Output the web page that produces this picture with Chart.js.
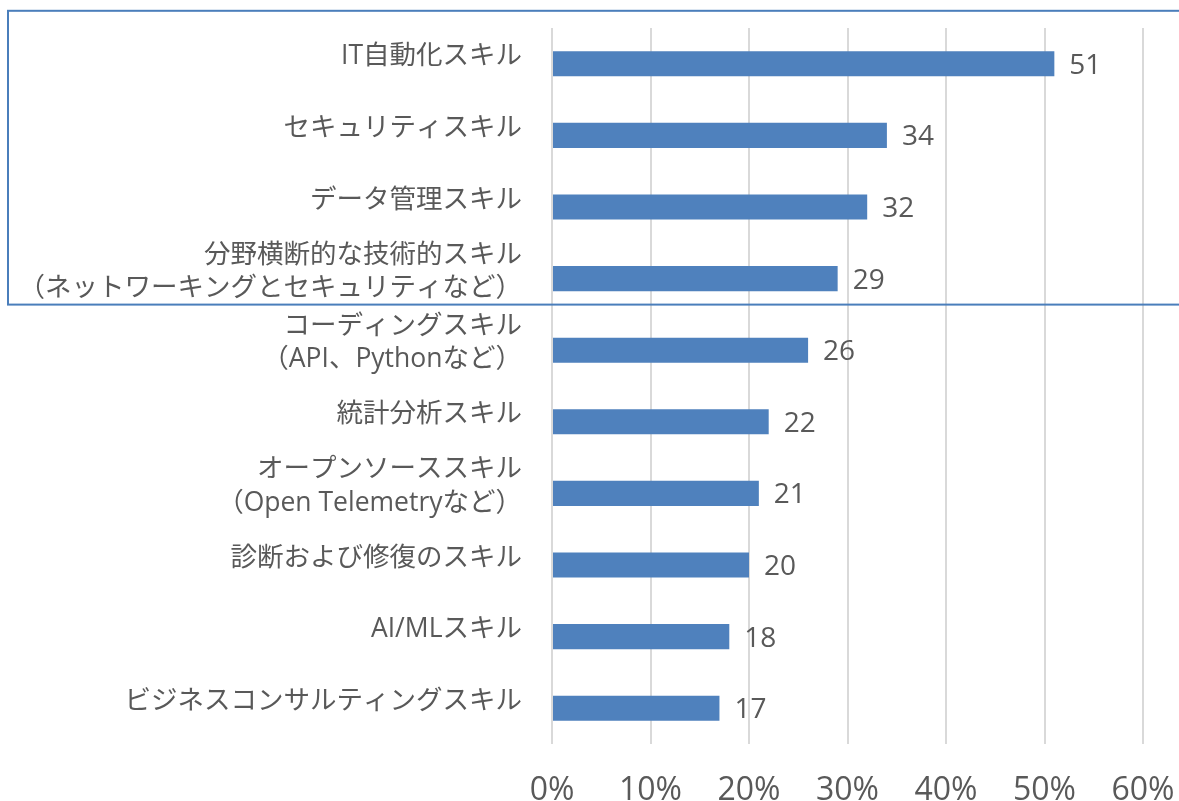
<!DOCTYPE html>
<html>
<head>
<meta charset="utf-8">
<script src="https://cdn.jsdelivr.net/npm/chart.js@4/dist/chart.umd.min.js"></script>
<style>
  html, body { margin: 0; padding: 0; background: #fff; }
  #wrap { width: 1179px; height: 801px; position: relative; }
</style>
</head>
<body>
<div id="wrap"><canvas id="skillsChart"></canvas></div>
<script>
// Skill categories (top to bottom) and share of respondents (%)
const categories = [
    'IT自動化スキル',
    'セキュリティスキル',
    'データ管理スキル',
    ['分野横断的な技術的スキル', '（ネットワーキングとセキュリティなど）'],
    ['コーディングスキル', '（API、Pythonなど）'],
    '統計分析スキル',
    ['オープンソーススキル', '（Open Telemetryなど）'],
    '診断および修復のスキル',
    'AI/MLスキル',
    'ビジネスコンサルティングスキル'
];
const values = [51, 34, 32, 29, 26, 22, 21, 20, 18, 17];
const xTicks = [0, 10, 20, 30, 40, 50, 60];

const FONT = "'Open Sans', 'Noto Sans CJK JP', sans-serif";
const TEXT_GREY = '#595959';
const BAR_BLUE = '#4F81BD';

// value labels to the right of each bar
const valueLabels = {
    id: 'valueLabels',
    afterDatasetsDraw(chart) {
        const ctx = chart.ctx;
        const meta = chart.getDatasetMeta(0);
        ctx.save();
        ctx.font = '28px ' + FONT;
        ctx.fillStyle = TEXT_GREY;
        ctx.textAlign = 'left';
        ctx.textBaseline = 'middle';
        meta.data.forEach((bar, i) => {
            ctx.fillText(String(values[i]), bar.x + 15, bar.y + 2);
        });
        ctx.restore();
    }
};

// highlight frame around the first four categories
const highlightBox = {
    id: 'highlightBox',
    afterDraw(chart) {
        const ctx = chart.ctx;
        const y = chart.scales.y;
        const top = y.getPixelForValue(0) - 53;
        const bottom = y.getPixelForValue(3) + 26;
        ctx.save();
        ctx.strokeStyle = '#4A7EBB';
        ctx.lineWidth = 2;
        ctx.strokeRect(8, top, chart.width + 10, bottom - top);
        ctx.restore();
    }
};

new Chart(document.getElementById('skillsChart'), {
    type: 'bar',
    data: {
        labels: categories,
        datasets: [{
            data: values,
            backgroundColor: BAR_BLUE,
            borderWidth: 0,
            barPercentage: 0.35,
            categoryPercentage: 1
        }]
    },
    options: {
        indexAxis: 'y',
        responsive: true,
        maintainAspectRatio: false,
        animation: false,
        layout: { padding: { top: 28, right: 36, left: 0, bottom: 0 } },
        plugins: {
            legend: { display: false },
            tooltip: { enabled: false }
        },
        scales: {
            x: {
                min: 0,
                max: 60,
                afterBuildTicks: (s) => { s.ticks = xTicks.map(v => ({ value: v })); },
                afterFit: (s) => { s.height = 57; s.paddingLeft = 0; s.paddingRight = 0; },
                grid: { color: '#D9D9D9', lineWidth: 2, drawTicks: false },
                border: { display: false },
                ticks: {
                    padding: 28,
                    color: TEXT_GREY,
                    font: { family: FONT, size: 32 },
                    callback: (v) => v + '%'
                }
            },
            y: {
                afterFit: (s) => { s.width = 552; s.paddingTop = 0; s.paddingBottom = 0; },
                grid: { display: false, drawTicks: false },
                border: { display: false },
                ticks: {
                    padding: 30,
                    labelOffset: -7,
                    color: TEXT_GREY,
                    font: { family: FONT, size: 26.5, lineHeight: 1.25 }
                }
            }
        }
    },
    plugins: [valueLabels, highlightBox]
});
</script>
</body>
</html>
